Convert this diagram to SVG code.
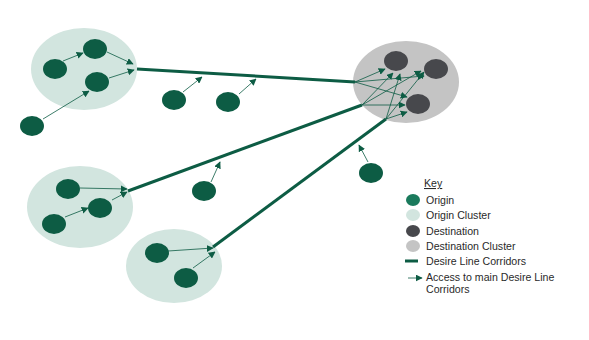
<svg xmlns="http://www.w3.org/2000/svg" width="589" height="340" viewBox="0 0 589 340">
<defs>
<marker id="ah" viewBox="0 0 10 10" refX="9" refY="5" markerWidth="7" markerHeight="7" markerUnits="userSpaceOnUse" orient="auto">
<path d="M0,0 L10,5 L0,10 z" fill="#0d5c44"/>
</marker>
</defs>
<style>
.oc{fill:#d2e5df}
.dc{fill:#c4c4c4}
.o{fill:#0d5c44}
.d{fill:#47484c}
.main{stroke:#0d5c44;stroke-width:3;fill:none;stroke-linecap:butt}
.acc{stroke:#0d5c44;stroke-width:0.8;fill:none;marker-end:url(#ah)}
.t{font-family:"Liberation Sans",Arial,sans-serif;font-size:10.6px;fill:#2a2a2a}
</style>
<rect width="589" height="340" fill="#fff"/>
<g id="clusters">
<ellipse id="origin-cluster-1" class="oc" cx="84" cy="69" rx="53" ry="41"/>
<ellipse id="origin-cluster-2" class="oc" cx="80" cy="207" rx="53" ry="41"/>
<ellipse id="origin-cluster-3" class="oc" cx="174" cy="266" rx="48" ry="37"/>
<ellipse id="destination-cluster" class="dc" cx="406" cy="82" rx="53" ry="41"/>
</g>
<g id="connectors">
<line class="main" x1="137" y1="69" x2="355" y2="82"/>
<line class="main" x1="128" y1="191" x2="362" y2="105"/>
<line class="main" x1="213" y1="247" x2="386" y2="119"/>
<line class="acc" x1="63" y1="61" x2="83" y2="53"/>
<line class="acc" x1="107" y1="52" x2="133" y2="64"/>
<line class="acc" x1="109" y1="78" x2="134" y2="70"/>
<line class="acc" x1="43" y1="119" x2="89" y2="91"/>
<line class="acc" x1="183" y1="92" x2="202" y2="77"/>
<line class="acc" x1="239" y1="94" x2="256" y2="79"/>
<line class="acc" x1="80" y1="188" x2="127" y2="189"/>
<line class="acc" x1="65" y1="217" x2="88" y2="208"/>
<line class="acc" x1="112" y1="200" x2="127" y2="192"/>
<line class="acc" x1="211" y1="182" x2="220" y2="162"/>
<line class="acc" x1="168" y1="251" x2="213" y2="248"/>
<line class="acc" x1="193" y1="268" x2="215" y2="252"/>
<line class="acc" x1="368" y1="162" x2="359" y2="145"/>
<line class="acc" x1="355" y1="82" x2="385" y2="69"/>
<line class="acc" x1="355" y1="82" x2="424" y2="76"/>
<line class="acc" x1="355" y1="82" x2="407" y2="97"/>
<line class="acc" x1="362" y1="105" x2="393" y2="73"/>
<line class="acc" x1="362" y1="105" x2="421" y2="71"/>
<line class="acc" x1="362" y1="105" x2="405" y2="105"/>
<line class="acc" x1="386" y1="119" x2="400" y2="74"/>
<line class="acc" x1="386" y1="119" x2="424" y2="72"/>
<line class="acc" x1="386" y1="119" x2="407" y2="112"/>
</g>
<g id="origin-1"><ellipse class="o" cx="95" cy="49" rx="12" ry="10"/></g>
<g id="origin-2"><ellipse class="o" cx="55" cy="69" rx="12" ry="10"/></g>
<g id="origin-3"><ellipse class="o" cx="97" cy="82" rx="12" ry="10"/></g>
<g id="origin-4"><ellipse class="o" cx="32" cy="126" rx="12" ry="10"/></g>
<g id="origin-5"><ellipse class="o" cx="174" cy="100" rx="12" ry="10"/></g>
<g id="origin-6"><ellipse class="o" cx="228" cy="102" rx="12" ry="10"/></g>
<g id="origin-7"><ellipse class="o" cx="68" cy="189" rx="12" ry="10"/></g>
<g id="origin-8"><ellipse class="o" cx="100" cy="208" rx="12" ry="10"/></g>
<g id="origin-9"><ellipse class="o" cx="54" cy="224" rx="12" ry="10"/></g>
<g id="origin-10"><ellipse class="o" cx="204" cy="191" rx="12" ry="10"/></g>
<g id="origin-11"><ellipse class="o" cx="157" cy="253" rx="12" ry="10"/></g>
<g id="origin-12"><ellipse class="o" cx="186" cy="278" rx="12" ry="10"/></g>
<g id="origin-13"><ellipse class="o" cx="371" cy="173" rx="12" ry="10"/></g>
<g id="destination-1"><ellipse class="d" cx="396" cy="61" rx="12" ry="10"/></g>
<g id="destination-2"><ellipse class="d" cx="436" cy="69" rx="12" ry="10"/></g>
<g id="destination-3"><ellipse class="d" cx="418" cy="104" rx="12" ry="10"/></g>
<g id="key">
<text class="t" x="424" y="187" text-decoration="underline">Key</text>
<ellipse cx="413" cy="200" rx="7" ry="6" fill="#1a7a5c"/>
<text class="t" x="426" y="204">Origin</text>
<ellipse cx="413" cy="215" rx="7" ry="6" fill="#d2e5df"/>
<text class="t" x="426" y="219">Origin Cluster</text>
<ellipse cx="413" cy="231" rx="7" ry="6" fill="#47484c"/>
<text class="t" x="426" y="235">Destination</text>
<ellipse cx="413" cy="246" rx="7" ry="6" fill="#c4c4c4"/>
<text class="t" x="426" y="250">Destination Cluster</text>
<line x1="405" y1="261" x2="418" y2="261" stroke="#0d5c44" stroke-width="3"/>
<text class="t" x="426" y="265">Desire Line Corridors</text>
<line class="acc" x1="408" y1="278" x2="422" y2="278"/>
<text class="t" x="426" y="281">Access to main Desire Line</text>
<text class="t" x="426" y="293">Corridors</text>
</g>
</svg>
